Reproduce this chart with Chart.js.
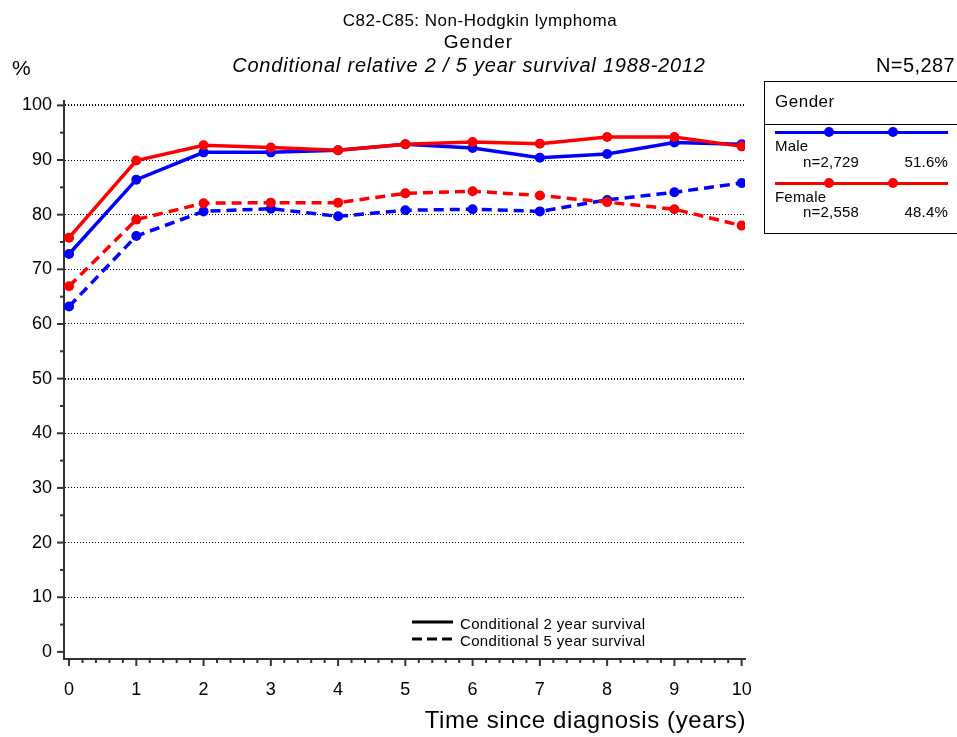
<!DOCTYPE html>
<html>
<head>
<meta charset="utf-8">
<script src="https://cdn.jsdelivr.net/npm/chart.js@4.4.1/dist/chart.umd.min.js"></script>
<style>
  body { margin: 0; background: #fff; font-family: "Liberation Sans", Arial, sans-serif; }
  #wrap { position: relative; width: 957px; height: 737px; overflow: hidden; }
  #c { position: absolute; left: 0; top: 0; }
  .t { position: absolute; color: #000; white-space: nowrap; line-height: 1; }
  .ln { position: absolute; height: 3px; }
  .dot { position: absolute; width: 10px; height: 10px; border-radius: 50%; }
</style>
</head>
<body>
<div id="wrap">
  <canvas id="c" width="957" height="737"></canvas>

  <div class="t" style="left:0;width:960px;top:12px;text-align:center;font-size:17px;letter-spacing:0.5px;">C82-C85: Non-Hodgkin lymphoma</div>
  <div class="t" style="left:0;width:957px;top:32px;text-align:center;font-size:19px;letter-spacing:1px;">Gender</div>
  <div class="t" style="left:0;width:938px;top:55px;text-align:center;font-size:20px;font-style:italic;letter-spacing:0.8px;">Conditional relative 2 / 5 year survival 1988-2012</div>
  <div class="t" style="left:12px;top:57px;font-size:21px;">%</div>
  <div class="t" style="right:2px;top:55px;font-size:20px;letter-spacing:0.4px;">N=5,287</div>

  <!-- group legend box -->
  <div style="position:absolute;left:764px;top:81px;width:200px;height:151px;border:1px solid #000;"></div>
  <div style="position:absolute;left:764px;top:124px;width:200px;border-top:1px solid #000;"></div>
  <div class="t" style="left:775px;top:93px;font-size:17px;letter-spacing:0.5px;">Gender</div>
  <div class="ln" style="left:775px;top:131px;width:173px;background:#0000ff;"></div>
  <div class="dot" style="left:824px;top:127px;background:#0000ff;"></div>
  <div class="dot" style="left:888px;top:127px;background:#0000ff;"></div>
  <div class="t" style="left:775px;top:138px;font-size:15px;letter-spacing:0.2px;">Male</div>
  <div class="t" style="left:803px;top:154px;font-size:15px;letter-spacing:0.2px;">n=2,729</div>
  <div class="t" style="right:9px;top:154px;font-size:15px;letter-spacing:0.2px;">51.6%</div>
  <div class="ln" style="left:775px;top:182px;width:173px;background:#ff0000;"></div>
  <div class="dot" style="left:824px;top:178px;background:#ff0000;"></div>
  <div class="dot" style="left:888px;top:178px;background:#ff0000;"></div>
  <div class="t" style="left:775px;top:189px;font-size:15px;letter-spacing:0.2px;">Female</div>
  <div class="t" style="left:803px;top:204px;font-size:15px;letter-spacing:0.2px;">n=2,558</div>
  <div class="t" style="right:9px;top:204px;font-size:15px;letter-spacing:0.2px;">48.4%</div>

  <!-- line style legend -->
  <svg style="position:absolute;left:410px;top:612px;" width="48" height="34">
    <line x1="2" y1="10" x2="43" y2="10" stroke="#000" stroke-width="3"/>
    <line x1="2" y1="27" x2="43" y2="27" stroke="#000" stroke-width="3" stroke-dasharray="10,5"/>
  </svg>
  <div class="t" style="left:460px;top:616px;font-size:15px;letter-spacing:0.35px;">Conditional 2 year survival</div>
  <div class="t" style="left:460px;top:633px;font-size:15px;letter-spacing:0.35px;">Conditional 5 year survival</div>

  <div class="t" style="right:211px;top:708px;font-size:24px;letter-spacing:0.6px;">Time since diagnosis (years)</div>
</div>

<script>
// years since diagnosis
const years = [0, 1, 2, 3, 4, 5, 6, 7, 8, 9, 10];

// conditional 2 year survival (%)
const male2 = [72.8, 86.4, 91.4, 91.4, 91.8, 92.9, 92.2, 90.4, 91.1, 93.2, 92.9];
const female2 = [75.8, 89.9, 92.7, 92.3, 91.8, 92.9, 93.3, 93.0, 94.2, 94.2, 92.5];

// conditional 5 year survival (%)
const male5 = [63.2, 76.1, 80.6, 81.1, 79.7, 80.8, 81.0, 80.6, 82.7, 84.1, 85.8];
const female5 = [66.9, 79.1, 82.1, 82.2, 82.2, 83.9, 84.3, 83.5, 82.3, 81.0, 78.0];

const yTicks = [0, 10, 20, 30, 40, 50, 60, 70, 80, 90, 100];
const xTicks = years;

function pts(vals) {
    return vals.map((v, i) => ({ x: years[i], y: v }));
}

function series(vals, color, dashed, order) {
    return {
        data: pts(vals),
        borderColor: color,
        backgroundColor: color,
        borderWidth: 3.5,
        borderDash: dashed ? [10, 6] : [],
        pointRadius: 5,
        pointHoverRadius: 5,
        pointBorderWidth: 0,
        tension: 0,
        order: order
    };
}

// small tick marks on both axes (major + minor)
const tickMarks = {
    id: 'tickMarks',
    afterDraw(chart) {
        const ctx = chart.ctx;
        const xs = chart.scales.x, ys = chart.scales.y;
        ctx.save();
        ctx.strokeStyle = '#333';
        ctx.lineWidth = 2;
        const left = chart.chartArea.left, bottom = chart.chartArea.bottom;
        for (let v = 0; v <= 100; v += 5) {
            const y = ys.getPixelForValue(v);
            const len = v % 10 === 0 ? 7 : 4;
            ctx.beginPath();
            ctx.moveTo(left - len, y);
            ctx.lineTo(left, y);
            ctx.stroke();
        }
        for (let i = 0; i <= 50; i++) {
            const x = xs.getPixelForValue(i / 5);
            const len = i % 5 === 0 ? 7 : 4;
            ctx.beginPath();
            ctx.moveTo(x, bottom);
            ctx.lineTo(x, bottom + len);
            ctx.stroke();
        }
        ctx.restore();
    }
};

new Chart(document.getElementById('c'), {
    type: 'line',
    data: {
        datasets: [
            series(male2, '#0000ff', false, 3),
            series(female2, '#ff0000', false, 1),
            series(male5, '#0000ff', true, 2),
            series(female5, '#ff0000', true, 0)
        ]
    },
    options: {
        responsive: false,
        animation: false,
        layout: { padding: { left: 0, right: 212, top: 101, bottom: 0 } },
        plugins: {
            legend: { display: false },
            tooltip: { enabled: false }
        },
        scales: {
            x: {
                type: 'linear',
                min: -0.075,
                max: 10.05,
                afterBuildTicks: s => { s.ticks = xTicks.map(v => ({ value: v })); },
                afterFit: s => { s.height = 78; },
                grid: { display: false, drawTicks: false },
                border: { display: true, color: '#333', width: 2 },
                ticks: {
                    padding: 20,
                    color: '#000',
                    font: { family: 'Liberation Sans', size: 18 }
                }
            },
            y: {
                min: -1.3,
                max: 100.8,
                afterBuildTicks: s => { s.ticks = yTicks.map(v => ({ value: v })); },
                afterFit: s => { s.width = 64; },
                grid: {
                    drawTicks: false,
                    color: c => (c.tick && c.tick.value === 0) ? 'rgba(0,0,0,0)' : '#000',
                    lineWidth: c => (c.tick && (c.tick.value === 100 || c.tick.value === 50)) ? 2 : 1
                },
                border: { display: true, color: '#333', width: 2, dash: [1, 2] },
                ticks: {
                    padding: 12,
                    color: '#000',
                    font: { family: 'Liberation Sans', size: 18 }
                }
            }
        }
    },
    plugins: [tickMarks]
});
</script>
</body>
</html>
